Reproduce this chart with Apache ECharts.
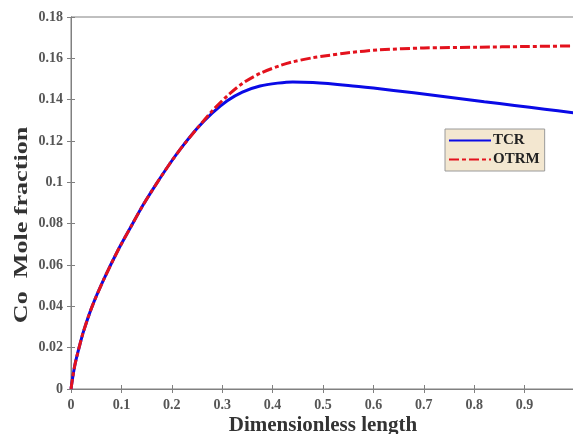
<!DOCTYPE html>
<html>
<head>
<meta charset="utf-8">
<script src="https://cdn.jsdelivr.net/npm/echarts@6/dist/echarts.min.js"></script>
<style>
html,body{margin:0;padding:0;background:#fff;}
#c{width:573px;height:434px;}
</style>
</head>
<body>
<div id="c"></div>
<script>
var xTCR = [0, 0.003, 0.008, 0.016, 0.025, 0.042, 0.065, 0.093, 0.12, 0.143, 0.17, 0.196, 0.22, 0.25, 0.28, 0.31, 0.34, 0.375, 0.41, 0.44, 0.48, 0.55, 0.6, 0.68, 0.75, 0.82, 0.88, 0.94, 1.0];
var yTCR = [0, 0.005, 0.012, 0.020, 0.028, 0.040, 0.053, 0.067, 0.079, 0.089, 0.0995, 0.109, 0.117, 0.126, 0.1335, 0.1395, 0.1437, 0.1466, 0.1480, 0.1486, 0.1483, 0.1469, 0.1456, 0.1433, 0.1412, 0.1390, 0.1372, 0.1354, 0.1336];
var xOTRM = [0, 0.003, 0.008, 0.016, 0.025, 0.042, 0.065, 0.093, 0.12, 0.143, 0.17, 0.196, 0.22, 0.25, 0.28, 0.31, 0.34, 0.375, 0.415, 0.44, 0.48, 0.51, 0.55, 0.613, 0.7, 0.81, 0.9, 1.0];
var yOTRM = [0, 0.005, 0.012, 0.020, 0.028, 0.040, 0.053, 0.067, 0.079, 0.089, 0.0995, 0.109, 0.117, 0.126, 0.1345, 0.1418, 0.1478, 0.1527, 0.1565, 0.1583, 0.1603, 0.1614, 0.1627, 0.1641, 0.1650, 0.1654, 0.1657, 0.1660];
var xTicks = [0, 0.1, 0.2, 0.3, 0.4, 0.5, 0.6, 0.7, 0.8, 0.9];
var yTicks = [0, 0.02, 0.04, 0.06, 0.08, 0.1, 0.12, 0.14, 0.16, 0.18];
var seriesNames = ['TCR', 'OTRM'];
var xTitle = 'Dimensionless length';
var yTitle = 'Co  Mole fraction';

function pairs(xs, ys){ return xs.map(function(x,i){ return [x, ys[i]]; }); }

var font = 'Liberation Serif';
var chart = echarts.init(document.getElementById('c'));
var axisLineStyle = {color:'#808080', width:1};
var tickCommon = {inside:true, length:4, lineStyle:axisLineStyle};
chart.setOption({
  animation:false,
  backgroundColor:'#fff',
  grid:{left:71, top:17, right:-2, bottom:45, show:true, borderColor:'#808080', borderWidth:1,
        backgroundColor:'transparent', containLabel:false, outerBoundsMode:'none'},
  legend:{
    data:seriesNames, orient:'vertical', left:445, top:129,
    backgroundColor:'#f3e7d0', borderColor:'#9a9a9a', borderWidth:1,
    padding:[4,5,4,3], itemGap:4, itemWidth:42, itemHeight:14,
    itemStyle:{opacity:0},
    textStyle:{fontFamily:font, fontWeight:'bold', fontSize:15, color:'#222', padding:[0,0,0,-3]}
  },
  graphic:[
    {type:'text', x:22, y:225, rotation:Math.PI/2, scaleX:1.45,
     style:{text:yTitle, fontFamily:font, fontWeight:'bold', fontSize:18, fill:'#333', textAlign:'center', textVerticalAlign:'middle'}}
  ],
  xAxis:[{
    type:'value', min:0, max:1, interval:0.1,
    name:xTitle, nameLocation:'middle', nameGap:26, nameMoveOverlap:false,
    nameTextStyle:{fontFamily:font, fontWeight:'bold', fontSize:21, color:'#333', verticalAlign:'top'},
    axisLine:{lineStyle:axisLineStyle},
    axisTick:tickCommon,
    splitLine:{show:false},
    axisLabel:{fontFamily:font, fontWeight:'bold', fontSize:14, color:'#555', margin:9,
      formatter:function(v){ var r=Math.round(v*10)/10; return xTicks.indexOf(r)>=0 ? String(r) : ''; }}
  },{
    type:'value', min:0, max:1, interval:0.1, position:'top',
    axisLine:{lineStyle:axisLineStyle}, axisTick:tickCommon, axisLabel:{show:false}, splitLine:{show:false}
  }],
  yAxis:[{
    type:'value', min:0, max:0.18, interval:0.02,
    axisLine:{lineStyle:axisLineStyle},
    axisTick:tickCommon,
    splitLine:{show:false},
    axisLabel:{fontFamily:font, fontWeight:'bold', fontSize:14, color:'#555', margin:8,
      formatter:function(v){ var r=Math.round(v*100)/100; return yTicks.indexOf(r)>=0 ? String(r) : ''; }}
  },{
    type:'value', min:0, max:0.18, interval:0.02, position:'right',
    axisLine:{lineStyle:axisLineStyle}, axisTick:tickCommon, axisLabel:{show:false}, splitLine:{show:false}
  }],
  series:[
    {name:seriesNames[0], type:'line', data:pairs(xTCR,yTCR), smooth:0.3, symbol:'none',
     lineStyle:{color:'#0a0ae6', width:3}, itemStyle:{color:'#0a0ae6'}, z:3},
    {name:seriesNames[1], type:'line', data:pairs(xOTRM,yOTRM), smooth:0.3, symbol:'none',
     lineStyle:{color:'#e3121d', width:3, type:[10,3,4,3]}, itemStyle:{color:'#e3121d'}, z:4}
  ]
});
</script>
</body>
</html>
